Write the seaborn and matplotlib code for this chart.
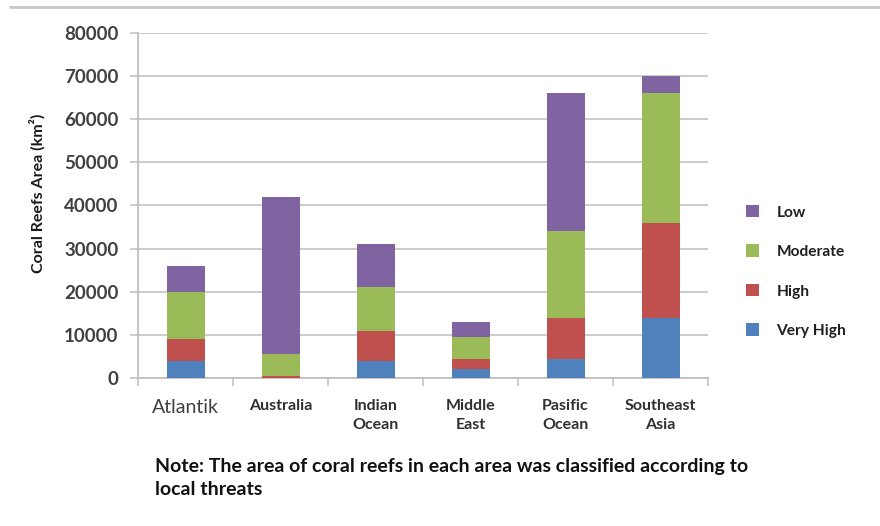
import numpy as np
import pandas as pd
import matplotlib
matplotlib.use("Agg")
import matplotlib.pyplot as plt
from matplotlib.patches import Patch
from matplotlib.lines import Line2D
import seaborn as sns

# Coral reef area (km²) per region, split by local threat level
regions = ["Atlantik", "Australia", "Indian\nOcean", "Middle\nEast", "Pasific\nOcean", "Southeast\nAsia"]
very_high = [4000, 0, 4000, 2000, 4500, 14000]
high = [5000, 500, 7000, 2500, 9500, 22000]
moderate = [11000, 5000, 10000, 5000, 20000, 30000]
low = [6000, 36500, 10000, 3500, 32000, 4000]

levels = ["Low", "Moderate", "High", "Very High"]
colors = {"Very High": "#4F81BD", "High": "#C0504D", "Moderate": "#9BBB59", "Low": "#8064A2"}

y_ticks = [0, 10000, 20000, 30000, 40000, 50000, 60000, 70000, 80000]

sns.set_theme(style="white")
plt.rcParams["font.family"] = ["Lato", "DejaVu Sans"]

W, H = 880, 526
fig = plt.figure(figsize=(W / 100, H / 100), dpi=100)
ax = fig.add_axes([138 / W, 1 - 378 / H, 570 / W, 345 / H])

df = pd.DataFrame({
    "region": regions,
    "Very High": very_high,
    "High": high,
    "Moderate": moderate,
    "Low": low,
})
# cumulative tops for each stacked segment
df["c_vh"] = df["Very High"]
df["c_h"] = df["c_vh"] + df["High"]
df["c_m"] = df["c_h"] + df["Moderate"]
df["c_l"] = df["c_m"] + df["Low"]

# draw tallest first so lower segments overlay it
for col, lvl in [("c_l", "Low"), ("c_m", "Moderate"), ("c_h", "High"), ("c_vh", "Very High")]:
    sns.barplot(data=df, x="region", y=col, color=colors[lvl], saturation=1,
                width=0.4, ax=ax, zorder=3, linewidth=0)

grid_c = "#C8C8C8"
ax.set_ylim(0, 80000)
ax.set_xlim(-0.5, 5.5)
ax.set_yticks(y_ticks)
ax.set_yticklabels([str(v) for v in y_ticks])
ax.yaxis.grid(True, color=grid_c, linewidth=1.3, zorder=0)
ax.set_axisbelow(True)
for s in ["top", "right"]:
    ax.spines[s].set_visible(False)
for s in ["left", "bottom"]:
    ax.spines[s].set_color("#BFBFBF")
    ax.spines[s].set_linewidth(1.3)

ax.tick_params(axis="y", which="major", length=6, width=1.3, color=grid_c,
               labelsize=13.5, labelcolor="#404040", pad=8, direction="out", left=True)
for t in ax.get_yticklabels():
    t.set_fontweight("bold")

ax.set_xticks(np.arange(len(regions)))
ax.set_xticks(np.arange(-0.5, len(regions), 1.0), minor=True)
ax.tick_params(axis="x", which="major", length=0, pad=15)
ax.tick_params(axis="x", which="minor", length=6, width=1.3, color=grid_c, direction="out", bottom=True)
ax.set_xticklabels(regions, fontsize=11.5, color="#303030", linespacing=1.45)
xt = ax.get_xticklabels()
xt[0].set_fontsize(14)
xt[0].set_color("#404040")
for t in xt[1:]:
    t.set_fontweight("bold")

ax.set_xlabel("")
ax.set_ylabel("Coral Reefs Area (km²)", fontsize=11.5, fontweight="bold", color="#1a1a1a")
ax.yaxis.set_label_coords((46 - 138) / 570, (378 - 193) / 345)

# legend on the right
handles = [Patch(facecolor=colors[l], edgecolor="none") for l in levels]
leg = fig.legend(handles, levels, loc="upper left", bbox_to_anchor=(732 / W, 1 - 191 / H),
                 frameon=False, fontsize=11.2, handlelength=0.85, handleheight=0.85,
                 labelspacing=1.6, handletextpad=1.1)
for t in leg.get_texts():
    t.set_fontweight("bold")
    t.set_color("#202020")

# thin rule across the top
fig.add_artist(Line2D([10 / W, 1.0], [1 - 7 / H, 1 - 7 / H], color="#C8C8C8", linewidth=2))

fig.text(155 / W, 1 - 458 / H,
         "Note: The area of coral reefs in each area was classified according to\nlocal threats",
         fontsize=14, fontweight="bold", color="#111111", va="top", ha="left",
         linespacing=1.45)

fig.savefig("out.png", dpi=100)
